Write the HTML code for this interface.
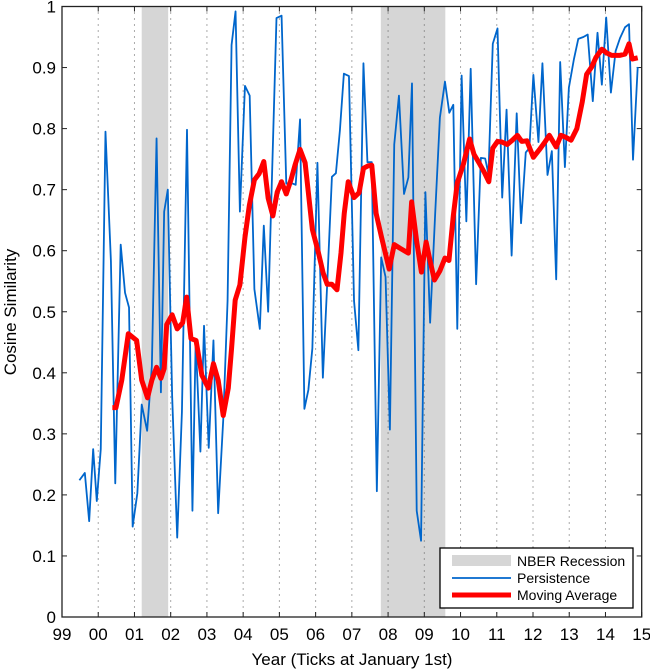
<!DOCTYPE html>
<html><head><meta charset="utf-8"><style>
body{margin:0;background:#fff;}
svg{display:block;font-family:"Liberation Sans",Arial,sans-serif;}
</style></head><body>
<svg id="chart" width="650" height="670"></svg>
<script>
const xTickLabels=["99","00","01","02","03","04","05","06","07","08","09","10","11","12","13","14","15"];
const yTickLabels=["0","0.1","0.2","0.3","0.4","0.5","0.6","0.7","0.8","0.9","1"];
const recessionStarts=[2001.2,2007.8];
const recessionEnds=[2001.93,2009.58];
const persYears=[1999.48,1999.63,1999.75,1999.86,1999.96,2000.07,2000.2,2000.35,2000.47,2000.62,2000.74,2000.85,2000.95,2001.08,2001.2,2001.35,2001.48,2001.61,2001.73,2001.82,2001.92,2002.04,2002.18,2002.31,2002.45,2002.6,2002.69,2002.82,2002.92,2003.05,2003.18,2003.31,2003.45,2003.57,2003.68,2003.79,2003.91,2004.05,2004.18,2004.31,2004.46,2004.57,2004.69,2004.92,2005.06,2005.19,2005.32,2005.45,2005.57,2005.69,2005.8,2005.91,2006.05,2006.2,2006.32,2006.45,2006.56,2006.67,2006.78,2006.92,2007.06,2007.18,2007.32,2007.43,2007.55,2007.69,2007.81,2007.93,2008.05,2008.17,2008.3,2008.44,2008.56,2008.66,2008.79,2008.91,2009.03,2009.16,2009.3,2009.43,2009.57,2009.69,2009.8,2009.91,2010.03,2010.16,2010.28,2010.43,2010.56,2010.68,2010.77,2010.89,2011.02,2011.15,2011.27,2011.41,2011.55,2011.67,2011.8,2011.9,2012.01,2012.15,2012.26,2012.4,2012.52,2012.64,2012.75,2012.88,2012.99,2013.13,2013.25,2013.39,2013.51,2013.65,2013.78,2013.9,2014.02,2014.15,2014.28,2014.4,2014.54,2014.65,2014.76,2014.89];
const persValues=[.224,.236,.157,.275,.19,.275,.795,.583,.219,.61,.531,.507,.148,.203,.348,.305,.411,.784,.368,.664,.7,.362,.13,.336,.798,.174,.453,.271,.477,.277,.453,.17,.323,.518,.937,.992,.664,.87,.854,.537,.472,.641,.5,.981,.985,.71,.711,.708,.815,.341,.372,.44,.744,.392,.546,.721,.727,.797,.89,.886,.518,.437,.907,.745,.745,.206,.589,.557,.307,.774,.854,.693,.72,.874,.174,.125,.696,.482,.661,.818,.877,.826,.839,.472,.887,.648,.898,.545,.752,.751,.726,.939,.964,.687,.831,.592,.825,.645,.761,.768,.888,.778,.907,.724,.763,.553,.909,.737,.867,.914,.947,.95,.954,.845,.957,.872,.982,.859,.927,.948,.966,.971,.749,.901];
const maYears=[2000.39,2000.49,2000.65,2000.83,2001.06,2001.2,2001.36,2001.48,2001.61,2001.73,2001.82,2001.89,2002.04,2002.18,2002.33,2002.44,2002.56,2002.7,2002.86,2003.04,2003.18,2003.31,2003.45,2003.59,2003.68,2003.78,2003.91,2004.05,2004.17,2004.31,2004.44,2004.57,2004.69,2004.82,2004.94,2005.06,2005.19,2005.32,2005.43,2005.57,2005.71,2005.91,2006.08,2006.21,2006.32,2006.45,2006.59,2006.7,2006.79,2006.9,2007.06,2007.2,2007.32,2007.45,2007.55,2007.67,2007.82,2008.03,2008.17,2008.33,2008.56,2008.65,2008.79,2008.92,2009.05,2009.16,2009.28,2009.43,2009.57,2009.68,2009.8,2009.91,2010.08,2010.25,2010.37,2010.51,2010.65,2010.78,2010.89,2011.02,2011.14,2011.29,2011.43,2011.57,2011.69,2011.83,2012.01,2012.17,2012.33,2012.45,2012.64,2012.77,2012.9,2013.05,2013.21,2013.36,2013.48,2013.62,2013.74,2013.9,2014.03,2014.17,2014.4,2014.54,2014.65,2014.74,2014.89];
const maValues=[.343,.343,.388,.464,.453,.388,.359,.388,.409,.391,.407,.479,.495,.472,.482,.524,.456,.453,.396,.375,.415,.388,.33,.375,.44,.519,.544,.622,.674,.716,.726,.746,.686,.657,.696,.713,.693,.716,.74,.766,.744,.635,.596,.563,.545,.545,.536,.596,.661,.713,.687,.695,.735,.739,.74,.661,.622,.57,.61,.604,.596,.68,.615,.565,.614,.583,.552,.567,.588,.584,.657,.711,.742,.783,.758,.744,.729,.713,.768,.779,.778,.774,.781,.789,.779,.78,.753,.765,.778,.789,.77,.789,.786,.781,.8,.844,.889,.901,.917,.93,.924,.92,.92,.922,.939,.914,.916];

const L=62,R=641.7,T=6.5,B=617;
const xs=y=>L+(y-1999)*(R-L)/16;
const ys=v=>B-v*(B-T);
const svg=document.getElementById('chart');
const NS='http://www.w3.org/2000/svg';
function mk(tag,attrs,parent){const e=document.createElementNS(NS,tag);for(const k in attrs)e.setAttribute(k,attrs[k]);(parent||svg).appendChild(e);return e;}

for(let i=0;i<recessionStarts.length;i++){
  const r=mk('rect',{x:xs(recessionStarts[i]),y:T,width:xs(recessionEnds[i])-xs(recessionStarts[i]),height:B-T,fill:'#d6d6d6'});
  
  
}
xTickLabels.forEach((lab,i)=>{
  const x=xs(1999+i);
  if(i>0&&i<16){const g=mk('line',{x1:x,x2:x,y1:T,y2:B,stroke:'#555','stroke-width':1,'stroke-dasharray':'1 5'});
    
    }
  mk('line',{x1:x,x2:x,y1:B,y2:B-5,stroke:'#222'});
  mk('line',{x1:x,x2:x,y1:T,y2:T+5,stroke:'#222'});
  const t=mk('text',{x:x,y:640,'text-anchor':'middle','font-size':17,fill:'#000'});t.textContent=lab;
  
  
});
yTickLabels.forEach((lab,i)=>{
  const y=ys(i/10);
  mk('line',{x1:L,x2:L+5,y1:y,y2:y,stroke:'#222'});
  mk('line',{x1:R,x2:R-5,y1:y,y2:y,stroke:'#222'});
  const t=mk('text',{x:56,y:y+6,'text-anchor':'end','font-size':17,fill:'#000'});t.textContent=lab;
  
  
});
const p1=mk('polyline',{points:persYears.map((y,i)=>xs(y)+','+ys(persValues[i])).join(' '),fill:'none',stroke:'#0066cc','stroke-width':1.8,'stroke-linejoin':'round'});


const p2=mk('polyline',{points:maYears.map((y,i)=>xs(y)+','+ys(maValues[i])).join(' '),fill:'none',stroke:'#ff0000','stroke-width':5,'stroke-linejoin':'round'});


const ax=mk('rect',{x:L,y:T,width:R-L,height:B-T,fill:'none',stroke:'#222','stroke-width':1.3});


</script>
<svg style="position:absolute;left:0;top:0" width="650" height="670">
<g>
<rect x="440" y="548" width="193" height="60" fill="#fff" stroke="#000" stroke-width="1.3"/>
<rect x="452" y="555" width="59" height="11" fill="#d6d6d6"/>
<text x="517" y="566" font-size="14" font-family="Liberation Sans,sans-serif">NBER Recession</text>
<line x1="452" y1="578" x2="511" y2="578" stroke="#0066cc" stroke-width="1.8"/>
<text x="517" y="583" font-size="14" font-family="Liberation Sans,sans-serif">Persistence</text>
<line x1="452" y1="595" x2="511" y2="595" stroke="#ff0000" stroke-width="5"/>
<text x="517" y="600" font-size="14" font-family="Liberation Sans,sans-serif">Moving Average</text>
</g>
<text x="352" y="665" text-anchor="middle" font-size="17" font-family="Liberation Sans,sans-serif">Year (Ticks at January 1st)</text>
<text transform="translate(16,312) rotate(-90)" text-anchor="middle" font-size="17" font-family="Liberation Sans,sans-serif">Cosine Similarity</text>
</svg>
</body></html>
